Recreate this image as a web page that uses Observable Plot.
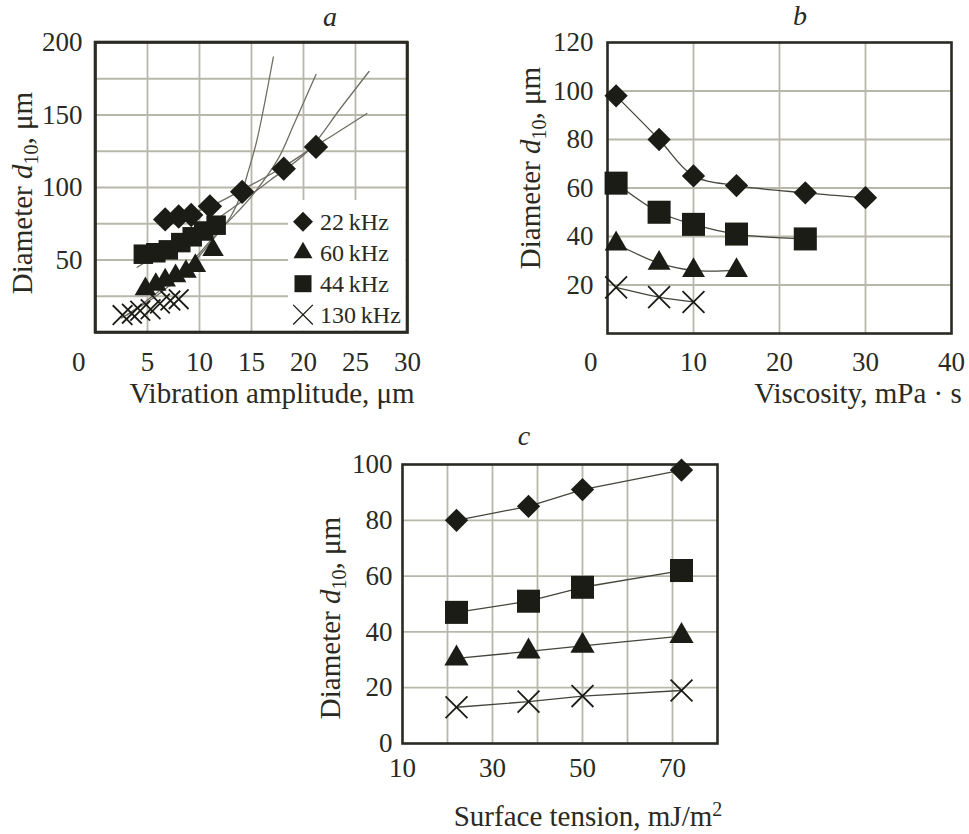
<!DOCTYPE html>
<html><head><meta charset="utf-8">
<script src="https://cdn.jsdelivr.net/npm/d3@7"></script>
<script src="https://cdn.jsdelivr.net/npm/@observablehq/plot@0.6"></script>
<style>
body{margin:0;background:#fff;}
#wrap{position:relative;width:969px;height:834px;overflow:hidden;background:#fff;}
.panel{position:absolute;}
.panel svg{overflow:visible;}
</style></head><body><div id="wrap"></div>
<script>
// ---------- DATA ----------
const legendLabels = ["22\u2009kHz", "60\u2009kHz", "44\u2009kHz", "130\u2009kHz"];
const legendKeys = ["22 kHz", "60 kHz", "44 kHz", "130 kHz"];

// Panel a: vibration amplitude (µm) vs d10 (µm)
const aXTicks = [0, 5, 10, 15, 20, 25, 30];
const aYTicks = [0, 50, 100, 150, 200];
const aGridX = [5, 10, 15, 20, 25];
const aGridY = [25, 50, 75, 100, 125, 150, 175];
const a22x = [6.7, 8.0, 9.2, 11.0, 14.1, 18.1, 21.2];
const a22y = [78, 80, 81, 87, 97, 113, 128];
const a44x = [4.6, 5.8, 7.0, 8.2, 9.3, 10.4, 11.6];
const a44y = [54, 55, 57, 62, 66, 70, 74];
const a60x = [4.8, 5.8, 6.7, 7.7, 8.7, 9.6, 11.3];
const a60y = [30, 33, 36, 39, 42, 46, 57];
const a130x = [2.6, 3.5, 4.3, 5.3, 6.2, 7.2, 8.0];
const a130y = [12, 13, 15, 16, 20, 22, 23];
// trend curves in panel a
const fit1x = [2.5, 6, 9, 11.5, 13, 14.1, 14.6, 15.5, 17.1];
const fit1y = [10, 26, 45, 66, 80, 97, 109, 132, 190];
const fit2x = [3, 6, 9, 11.5, 13.5, 14.9, 17.5, 19.1, 21.2];
const fit2y = [12, 28, 47, 67, 82, 93, 119, 144, 178];
const fit3x = [4, 7, 11, 14, 16.8, 20.4, 23.6, 26.3];
const fit3y = [45, 58, 75, 90, 105, 125, 155, 180];
const fit4x = [6.5, 11, 14, 18, 21, 22.6, 26.1];
const fit4y = [76, 87, 98, 114, 128, 135, 151];

// Panel b: viscosity (mPa·s) vs d10 (µm)
const bXTicks = [0, 10, 20, 30, 40];
const bYTicks = [0, 20, 40, 60, 80, 100, 120];
const bGridX = [10, 20, 30];
const bGridY = [20, 40, 60, 80, 100];
const b22x = [1, 6, 10, 15, 23, 30];
const b22y = [98, 80, 65, 61, 58, 56];
const b44x = [1, 6, 10, 15, 23];
const b44y = [62, 50, 45, 41, 39];
const b60x = [1, 6, 10, 15];
const b60y = [37, 29, 26, 26];
const b130x = [1, 6, 10];
const b130y = [19, 15, 13];

// Panel c: surface tension (mJ/m2) vs d10 (µm)
const cXTicks = [10, 30, 50, 70];
const cYTicks = [0, 20, 40, 60, 80, 100];
const cGridX = [20, 30, 40, 50, 60, 70];
const cGridY = [20, 40, 60, 80];
const cX = [22, 38, 50, 72];
const c22y = [80, 85, 91, 98];
const c44y = [47, 51, 56, 62];
const c60y = [30.5, 33, 35, 38.5];
const c130y = [13, 15, 17, 19];

// ---------- STYLE ----------
const FONT = "'Liberation Serif', 'Times New Roman', serif";
const INK = "#1c1c16";
const GRID = "#b8b8aa";
const FRAME = "#2a2a22";
const rows = (xs, ys) => xs.map((x, i) => ({x, y: ys[i]}));

const SYM = {
  "22 kHz": {symbol: "diamond2", fill: INK, stroke: "none"},
  "44 kHz": {symbol: "square", fill: INK, stroke: "none"},
  "60 kHz": {symbol: "triangle", fill: INK, stroke: "none"},
  "130 kHz": {symbol: "times", fill: "none", stroke: INK, strokeWidth: 1.8}
};

const wrap = document.getElementById("wrap");

function common(xTicks, yTicks, gridX, gridY, xPad, yPad, corner) {
  const m = [
    Plot.gridX({ticks: gridX, stroke: GRID, strokeOpacity: 1, strokeWidth: 1.8}),
    Plot.gridY({ticks: gridY, stroke: GRID, strokeOpacity: 1, strokeWidth: 1.8}),
    Plot.frame({stroke: FRAME, strokeWidth: 2.6}),
    Plot.axisX({ticks: corner ? xTicks.slice(1) : xTicks, tickSize: 0, tickPadding: xPad, fontSize: 27, label: null, tickFormat: d => String(d)}),
    Plot.axisY({ticks: corner ? yTicks.slice(1) : yTicks, tickSize: 0, tickPadding: yPad, fontSize: 27, label: null, tickFormat: d => String(d)})
  ];
  if (corner) {
    m.push(Plot.text([yTicks[0]], {frameAnchor: "bottom-left", text: d => String(d), textAnchor: "end", lineAnchor: "top", dx: -10, dy: xPad, fontSize: 27}));
  }
  return m;
}

function dots(data, key, r) {
  return Plot.dot(data, {x: "x", y: "y", r, ...SYM[key]});
}

function place(chart, left, top) {
  const div = document.createElement("div");
  div.className = "panel";
  div.style.left = left + "px";
  div.style.top = top + "px";
  div.appendChild(chart);
  wrap.appendChild(div);
}

const plotStyle = {fontFamily: FONT, fontSize: "27px", color: FRAME, background: "transparent", overflow: "visible"};

// ---------- PANEL A ----------
const lineA = {x: "x", y: "y", stroke: "#6e6e64", strokeWidth: 1.3, curve: "catmull-rom"};
const chartA = Plot.plot({
  width: 440, height: 400, marginLeft: 95, marginRight: 33, marginTop: 42, marginBottom: 68,
  x: {domain: [0, 30]}, y: {domain: [0, 200]},
  style: plotStyle,
  marks: [
    ...common(aXTicks, aYTicks, aGridX, aGridY, 19, 13, true),
    Plot.line(rows(fit1x, fit1y), lineA),
    Plot.line(rows(fit2x, fit2y), lineA),
    Plot.line(rows(fit3x, fit3y), lineA),
    Plot.line(rows(fit4x, fit4y), lineA),
    dots(rows(a130x, a130y), "130 kHz", 9),
    dots(rows(a60x, a60y), "60 kHz", 8),
    dots(rows(a44x, a44y), "44 kHz", 11),
    dots(rows(a22x, a22y), "22 kHz", 11)
  ]
});
place(chartA, 0, 0);

// legend inside panel a (bottom-right of the frame, white box over the grid)
{
  const svg = d3.select(chartA);
  const fx = chartA.scale("x"), fy = chartA.scale("y");
  const right = fx.apply(30), bottom = fy.apply(0);
  const g = svg.append("g").attr("text-anchor", "start");
  g.append("rect").attr("x", right - 119).attr("y", bottom - 132).attr("width", 117.7).attr("height", 130.7).attr("fill", "#fff");
  legendKeys.forEach((key, i) => {
    const cy = bottom - 110.3 + i * 31, cx = right - 104;
    const s = SYM[key];
    const type = {diamond2: d3.symbolDiamond2, square: d3.symbolSquare, triangle: d3.symbolTriangle, times: d3.symbolTimes}[s.symbol];
    const r = {diamond2: 9, square: 9.6, triangle: 7, times: 9}[s.symbol];
    g.append("path").attr("d", d3.symbol(type, Math.PI * r * r)()).attr("transform", `translate(${cx},${cy})`)
      .attr("fill", s.fill).attr("stroke", s.stroke).attr("stroke-width", s.strokeWidth ? 1.3 : null);
    g.append("text").attr("x", cx + 17).attr("y", cy).attr("dy", "0.35em").attr("font-size", 24).attr("fill", FRAME)
      .attr("text-anchor", "start").attr("font-family", FONT).text(legendLabels[i]);
  });
  svg.append("rect").attr("x", fx.apply(0)).attr("y", fy.apply(200)).attr("width", right - fx.apply(0)).attr("height", bottom - fy.apply(200))
    .attr("fill", "none").attr("stroke", FRAME).attr("stroke-width", 2.6);
}

// ---------- PANEL B ----------
const lineB = {x: "x", y: "y", stroke: "#45453c", strokeWidth: 1.3, curve: "catmull-rom"};
const chartB = Plot.plot({
  width: 469, height: 400, marginLeft: 107, marginRight: 18, marginTop: 42, marginBottom: 67,
  x: {domain: [0, 40]}, y: {domain: [0, 120]},
  style: plotStyle,
  marks: [
    ...common(bXTicks, bYTicks, bGridX, bGridY, 18, 14, true),
    Plot.line(rows(b22x, b22y), lineB),
    Plot.line(rows(b44x, b44y), lineB),
    Plot.line(rows(b60x, b60y), lineB),
    Plot.line(rows(b130x, b130y), lineB),
    dots(rows(b130x, b130y), "130 kHz", 10),
    dots(rows(b60x, b60y), "60 kHz", 8.5),
    dots(rows(b44x, b44y), "44 kHz", 13),
    dots(rows(b22x, b22y), "22 kHz", 10.5)
  ]
});
place(chartB, 500, 0);

// ---------- PANEL C ----------
const lineC = {x: "x", y: "y", stroke: "#45453c", strokeWidth: 1.3};
const chartC = Plot.plot({
  width: 417, height: 330, marginLeft: 102, marginRight: 0, marginTop: 34, marginBottom: 17,
  x: {domain: [10, 80]}, y: {domain: [0, 100]},
  style: plotStyle,
  marks: [
    ...common(cXTicks, cYTicks, cGridX, cGridY, 14, 10, false),
    Plot.line(rows(cX, c22y), lineC),
    Plot.line(rows(cX, c44y), lineC),
    Plot.line(rows(cX, c60y), lineC),
    Plot.line(rows(cX, c130y), lineC),
    dots(rows(cX, c130y), "130 kHz", 10),
    dots(rows(cX, c60y), "60 kHz", 9),
    dots(rows(cX, c44y), "44 kHz", 13),
    dots(rows(cX, c22y), "22 kHz", 10.5)
  ]
});
place(chartC, 300, 430);

// ---------- TEXT OVERLAY (axis titles, panel letters) ----------
const ov = d3.select(wrap).append("svg")
  .attr("width", 969).attr("height", 834)
  .style("position", "absolute").style("left", 0).style("top", 0)
  .attr("font-family", FONT).attr("fill", FRAME);

function yTitle(x, y) {
  const t = ov.append("text").attr("transform", `translate(${x},${y}) rotate(-90)`)
    .attr("text-anchor", "middle").attr("font-size", 29);
  t.append("tspan").text("Diameter ");
  t.append("tspan").attr("font-style", "italic").text("d");
  t.append("tspan").attr("font-size", 20).attr("dy", 6).text("10");
  t.append("tspan").attr("dy", -6).text(", μm");
}
function xTitle(x, y, parts) {
  const t = ov.append("text").attr("x", x).attr("y", y).attr("text-anchor", "middle").attr("font-size", 29);
  parts.forEach(p => {
    const s = t.append("tspan").text(p.t);
    if (p.sup) s.attr("font-size", 20).attr("dy", -10);
  });
}
function letter(x, y, s) {
  ov.append("text").attr("x", x).attr("y", y).attr("text-anchor", "middle")
    .attr("font-size", 28).attr("font-style", "italic").text(s);
}

yTitle(32, 193);
yTitle(540, 168);
yTitle(340, 618);
xTitle(272, 403, [{t: "Vibration amplitude, μm"}]);
xTitle(858, 403, [{t: "Viscosity, mPa · s"}]);
xTitle(588, 826, [{t: "Surface tension, mJ/m"}, {t: "2", sup: true}]);
letter(330, 26, "a");
letter(800, 25, "b");
letter(524, 445, "c");
</script></body></html>
